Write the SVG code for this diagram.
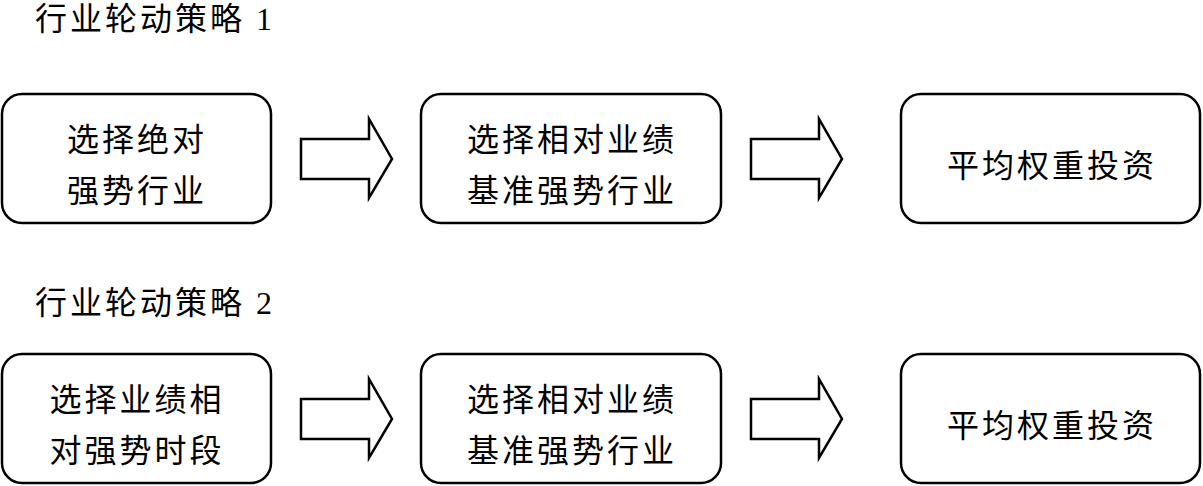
<svg xmlns="http://www.w3.org/2000/svg" width="1203" height="486" viewBox="0 0 1203 486">
<style>
text{font-family:"Liberation Serif","Noto Sans CJK SC",sans-serif;font-size:32px;letter-spacing:3px;fill:#000}
.c{text-anchor:middle}
.box{fill:#fff;stroke:#000;stroke-width:2.5}
.arr{fill:#fff;stroke:#000;stroke-width:2.5;stroke-linejoin:miter}
</style>
<rect width="1203" height="486" fill="#fff"/>
<text id="title1" x="35" y="30">行业轮动策略 1</text>
<text id="title2" x="35" y="314">行业轮动策略 2</text>
<g id="n1"><rect class="box" x="2" y="94" width="269" height="129" rx="20"/><text class="c" x="137" y="151">选择绝对</text><text class="c" x="137" y="202">强势行业</text></g>
<g id="n2"><rect class="box" x="421" y="94" width="300" height="129" rx="20"/><text class="c" x="572" y="151">选择相对业绩</text><text class="c" x="572" y="202">基准强势行业</text></g>
<g id="n3"><rect class="box" x="901" y="94" width="299" height="129" rx="20"/><text class="c" x="1052" y="177">平均权重投资</text></g>
<g id="n4"><rect class="box" x="2" y="354" width="269" height="129" rx="20"/><text class="c" x="137" y="411">选择业绩相</text><text class="c" x="137" y="462">对强势时段</text></g>
<g id="n5"><rect class="box" x="421" y="354" width="300" height="129" rx="20"/><text class="c" x="572" y="411">选择相对业绩</text><text class="c" x="572" y="462">基准强势行业</text></g>
<g id="n6"><rect class="box" x="901" y="354" width="299" height="129" rx="20"/><text class="c" x="1052" y="437">平均权重投资</text></g>
<g id="connectors">
<polygon class="arr" points="301,139 369,139 369,119 392,159 369,198 369,179 301,179"/>
<polygon class="arr" points="751,139 819,139 819,119 842,159 819,198 819,179 751,179"/>
<polygon class="arr" points="301,399 369,399 369,379 392,419 369,458 369,439 301,439"/>
<polygon class="arr" points="751,399 819,399 819,379 842,419 819,458 819,439 751,439"/>
</g>
</svg>
